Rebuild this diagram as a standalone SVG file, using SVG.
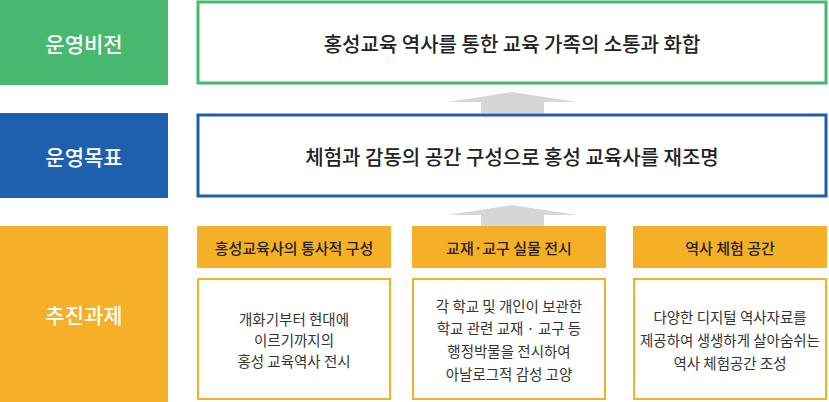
<svg xmlns="http://www.w3.org/2000/svg" width="829" height="402" viewBox="0 0 829 402">
<style>
text{font-family:"Noto Sans CJK KR","Noto Sans",sans-serif;text-anchor:middle;dominant-baseline:central}
.lbl{fill:#fff;font-size:21px;font-weight:500}
.big{fill:#222;font-size:20px;font-weight:500}
.hd{fill:#222;font-size:15px;font-weight:500}
.bd{fill:#333;font-size:14.5px}
.ob{fill:#fff;stroke:#f5b027;stroke-width:2}
.arr{fill:#d6d6d6}
</style>
<rect width="829" height="402" fill="#fff"/>
<g id="vision-label"><rect x="0" y="0" width="168" height="85" fill="#48b870"/><text class="lbl" x="84" y="43">운영비전</text></g>
<g id="goal-label"><rect x="0" y="113" width="168" height="85" fill="#1e5fae"/><text class="lbl" x="84" y="156">운영목표</text></g>
<g id="task-label"><rect x="0" y="226" width="168" height="176" fill="#f5b027"/><text class="lbl" x="84" y="314">추진과제</text></g>
<g id="vision"><rect x="198" y="2" width="628" height="81" fill="#fff" stroke="#48b870" stroke-width="3"/><text class="big" x="512" y="43">홍성교육 역사를 통한 교육 가족의 소통과 화합</text></g>
<g id="goal"><rect x="198" y="115" width="628" height="81" fill="#fff" stroke="#1e5fae" stroke-width="3"/><text class="big" x="512" y="156">체험과 감동의 공간 구성으로 홍성 교육사를 재조명</text></g>
<g id="connectors">
<polygon class="arr" points="448,102 512,92 577,102 544,102 544,113 481,113 481,102"/>
<polygon class="arr" points="448,215 512,205 577,215 544,215 544,226 481,226 481,215"/>
</g>
<g id="task1"><rect x="197" y="226" width="194" height="42" fill="#f5b027"/><text class="hd" x="294" y="247">홍성교육사의 통사적 구성</text>
<rect class="ob" x="198" y="279" width="192" height="120"/><text class="bd" x="294" y="318">개화기부터 현대에</text><text class="bd" x="294" y="339">이르기까지의</text><text class="bd" x="294" y="360">홍성 교육역사 전시</text></g>
<g id="task2"><rect x="412" y="226" width="194" height="42" fill="#f5b027"/><text class="hd" x="509" y="247">교재·교구 실물 전시</text>
<rect class="ob" x="413" y="279" width="192" height="120"/><text class="bd" x="509" y="305">각 학교 및 개인이 보관한</text><text class="bd" x="509" y="327">학교 관련 교재 · 교구 등</text><text class="bd" x="509" y="350">행정박물을 전시하여</text><text class="bd" x="509" y="373">아날로그적 감성 고양</text></g>
<g id="task3"><rect x="633" y="226" width="194" height="42" fill="#f5b027"/><text class="hd" x="730" y="247">역사 체험 공간</text>
<rect class="ob" x="634" y="279" width="192" height="120"/><text class="bd" x="730" y="316">다양한 디지털 역사자료를</text><text class="bd" x="730" y="339">제공하여 생생하게 살아숨쉬는</text><text class="bd" x="730" y="362">역사 체험공간 조성</text></g>
</svg>
